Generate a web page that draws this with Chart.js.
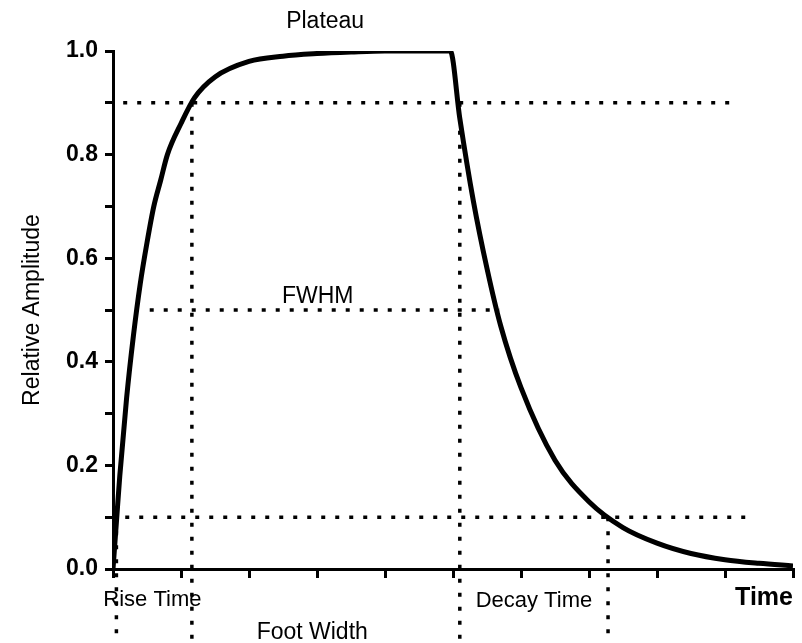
<!DOCTYPE html>
<html>
<head>
    <title>Relative Amplitude vs Time</title>
    <script src="https://cdn.jsdelivr.net/npm/chart.js"></script>
    <style>
        body { margin: 0; background: #fff; }
        #wrap { width: 802px; height: 643px; }
    </style>
</head>
<body>
    <div id="wrap">
        <canvas id="pulseChart"></canvas>
    </div>

<script>
// curve (time in axis units 0..10, amplitude 0..1)
const timeVals = [0, 0.05, 0.1, 0.2, 0.3, 0.4, 0.5, 0.6, 0.7, 0.8, 1.0, 1.2, 1.5, 2.0, 2.5, 3.0, 3.5, 4.0, 4.96,
                  5.1, 5.3, 5.5, 5.7, 6.0, 6.5, 7.0, 7.5, 8.0, 8.5, 9.0, 9.5, 10];
const ampVals  = [0, 0.09, 0.18, 0.33, 0.45, 0.55, 0.63, 0.70, 0.75, 0.80, 0.86, 0.91, 0.95, 0.98, 0.99, 0.995, 0.998, 1.0, 1.0,
                  0.87, 0.71, 0.58, 0.47, 0.35, 0.21, 0.13, 0.08, 0.05, 0.03, 0.018, 0.011, 0.006];

// dotted guide lines: horizontal ones [level, fromTime, toTime]
const hGuideLevel = [0.9, 0.5, 0.1];
const hGuideFrom  = [0.15, 0.54, 0.18];
const hGuideTo    = [9.18, 5.69, 9.37];
// vertical ones [time, fromAmp, toAmp] (they run off below the axis)
const vGuideTime = [0.05, 1.16, 5.1, 7.28];
const vGuideTop  = [0.1, 0.9, 0.9, 0.1];
const vGuideBot  = [-0.145, -0.145, -0.145, -0.145];

// annotation texts and where they sit (in axis units)
const noteText = ['Plateau', 'FWHM', 'Rise Time', 'Decay Time', 'Foot Width'];
const noteTime = [3.12, 3.01, 0.58, 6.19, 2.93];
const noteAmp  = [1.056, 0.525, -0.06, -0.062, -0.122];

const FONT = "'Liberation Sans', Arial, Helvetica, sans-serif";

const datasets = [{
    label: 'Relative Amplitude',
    data: timeVals.map((t, i) => ({ x: t, y: ampVals[i] })),
    borderColor: '#000',
    borderWidth: 5,
    pointRadius: 0,
    cubicInterpolationMode: 'monotone',
    fill: false
}];

hGuideLevel.forEach((lvl, i) => {
    datasets.push({
        data: [{ x: hGuideFrom[i], y: lvl }, { x: hGuideTo[i], y: lvl }],
        borderColor: '#000', borderWidth: 3.5, borderDash: [4, 10],
        pointRadius: 0, fill: false, clip: false
    });
});
vGuideTime.forEach((t, i) => {
    datasets.push({
        data: [{ x: t, y: vGuideTop[i] }, { x: t, y: vGuideBot[i] }],
        borderColor: '#000', borderWidth: 3.5, borderDash: [4, 10],
        pointRadius: 0, fill: false, clip: false
    });
});

// plugin that writes the free-standing labels
const notesPlugin = {
    id: 'notes',
    afterDraw(chart) {
        const ctx = chart.ctx;
        const xs = chart.scales.x, ys = chart.scales.y;
        ctx.save();
        ctx.fillStyle = '#000';
        ctx.textAlign = 'center';
        ctx.textBaseline = 'middle';
        noteText.forEach((txt, i) => {
            ctx.font = (txt === 'Rise Time' || txt === 'Decay Time' ? '22px ' : '23px ') + FONT;
            ctx.fillText(txt, xs.getPixelForValue(noteTime[i]), ys.getPixelForValue(noteAmp[i]));
        });
        ctx.restore();
    }
};

new Chart(document.getElementById('pulseChart').getContext('2d'), {
    type: 'line',
    data: { datasets: datasets },
    options: {
        responsive: true,
        maintainAspectRatio: false,
        animation: false,
        layout: { padding: { top: 51, right: 9, left: 0, bottom: 0 } },
        plugins: { legend: { display: false }, tooltip: { enabled: false } },
        scales: {
            x: {
                type: 'linear',
                min: 0, max: 10,
                afterFit: function (scale) { scale.height = 74; },
                border: { display: true, color: '#000', width: 3 },
                grid: { drawOnChartArea: false, drawTicks: true, tickLength: 9, color: '#000', lineWidth: 3 },
                ticks: { stepSize: 1, callback: () => '' },
                title: {
                    display: true, text: 'Time', align: 'end', color: '#000',
                    font: { family: FONT, size: 25, weight: 'bold' },
                    padding: { top: 0, bottom: 30 }
                }
            },
            y: {
                min: 0, max: 1,
                afterFit: function (scale) { scale.width = 113; },
                border: { display: true, color: '#000', width: 3 },
                grid: { drawOnChartArea: false, drawTicks: true, tickLength: 8, color: '#000', lineWidth: 3 },
                ticks: {
                    stepSize: 0.1, color: '#000', padding: 7,
                    font: { family: FONT, size: 23, weight: 'bold' },
                    callback: function (v) {
                        return Math.round(v * 10) % 2 === 0 ? v.toFixed(1) : '';
                    }
                },
                title: {
                    display: true, text: 'Relative Amplitude', color: '#000',
                    font: { family: FONT, size: 23 },
                    padding: { top: 19, bottom: 0 }
                }
            }
        }
    },
    plugins: [notesPlugin]
});
</script>
</body>
</html>
